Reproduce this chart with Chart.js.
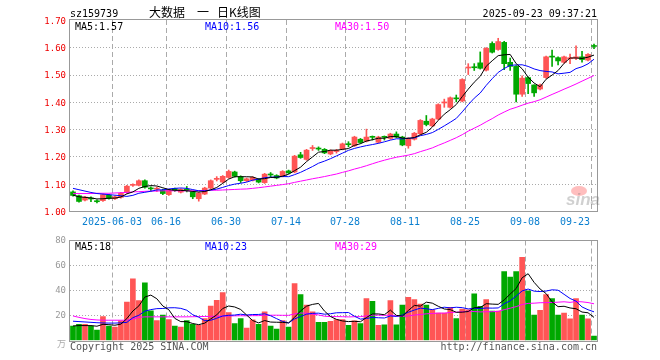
<!DOCTYPE html>
<html>
<head>
<meta charset="utf-8">
<script src="https://cdn.jsdelivr.net/npm/chart.js@4.4.1/dist/chart.umd.min.js"></script>
<style>
  body { margin: 0; background: #fff; }
  #wrap { position: relative; width: 660px; height: 360px; }
  #kbox { position: absolute; left: 0; top: 0; width: 660px; height: 230px; }
  #vbox { position: absolute; left: 0; top: 230px; width: 660px; height: 130px; }
</style>
</head>
<body>
<div id="wrap">
  <div id="kbox"><canvas id="kline" width="660" height="230"></canvas></div>
  <div id="vbox"><canvas id="vol" width="660" height="130"></canvas></div>
</div>
<script>
// trading days shown in the chart
const dates = [
  "2025-05-22","2025-05-23","2025-05-26","2025-05-27","2025-05-28","2025-05-29","2025-05-30",
  "2025-06-03","2025-06-04","2025-06-05","2025-06-06","2025-06-09","2025-06-10","2025-06-11","2025-06-12","2025-06-13",
  "2025-06-16","2025-06-17","2025-06-18","2025-06-19","2025-06-20","2025-06-23","2025-06-24","2025-06-25","2025-06-26","2025-06-27",
  "2025-06-30","2025-07-01","2025-07-02","2025-07-03","2025-07-04","2025-07-07","2025-07-08","2025-07-09","2025-07-10","2025-07-11",
  "2025-07-14","2025-07-15","2025-07-16","2025-07-17","2025-07-18","2025-07-21","2025-07-22","2025-07-23","2025-07-24","2025-07-25",
  "2025-07-28","2025-07-29","2025-07-30","2025-07-31","2025-08-01","2025-08-04","2025-08-05","2025-08-06","2025-08-07","2025-08-08",
  "2025-08-11","2025-08-12","2025-08-13","2025-08-14","2025-08-15","2025-08-18","2025-08-19","2025-08-20","2025-08-21","2025-08-22",
  "2025-08-25","2025-08-26","2025-08-27","2025-08-28","2025-08-29","2025-09-01","2025-09-02","2025-09-03","2025-09-04","2025-09-05",
  "2025-09-08","2025-09-09","2025-09-10","2025-09-11","2025-09-12","2025-09-15","2025-09-16","2025-09-17","2025-09-18","2025-09-19",
  "2025-09-22","2025-09-23"
];
const tickIdx = [7, 16, 26, 36, 46, 56, 66, 76, 87];

const opens = [
  1.070,1.056,1.040,1.046,1.036,1.038,1.058,1.045,1.050,1.067,
  1.094,1.094,1.111,1.083,1.080,1.076,1.060,1.082,1.069,1.078,
  1.070,1.045,1.062,1.084,1.116,1.106,1.123,1.143,1.126,1.111,
  1.113,1.116,1.104,1.134,1.130,1.128,1.147,1.143,1.206,1.189,
  1.229,1.229,1.226,1.209,1.218,1.227,1.245,1.239,1.263,1.256,
  1.272,1.252,1.272,1.266,1.282,1.271,1.239,1.263,1.283,1.329,
  1.312,1.337,1.396,1.380,1.413,1.403,1.524,1.527,1.543,1.516,
  1.614,1.592,1.618,1.545,1.530,1.428,1.489,1.462,1.447,1.489,
  1.566,1.562,1.545,1.558,1.560,1.565,1.553,1.605
];
const highs = [
  1.074,1.058,1.054,1.052,1.041,1.062,1.061,1.056,1.068,1.094,
  1.100,1.114,1.114,1.089,1.088,1.080,1.080,1.084,1.082,1.090,
  1.073,1.068,1.087,1.114,1.126,1.130,1.150,1.146,1.129,1.121,
  1.126,1.119,1.138,1.141,1.133,1.148,1.150,1.204,1.215,1.226,
  1.240,1.235,1.229,1.224,1.226,1.249,1.254,1.274,1.266,1.300,
  1.275,1.274,1.275,1.285,1.290,1.274,1.269,1.288,1.335,1.350,
  1.340,1.393,1.410,1.418,1.425,1.485,1.540,1.540,1.583,1.599,
  1.620,1.633,1.622,1.560,1.533,1.495,1.492,1.462,1.465,1.568,
  1.590,1.565,1.568,1.575,1.605,1.585,1.577,1.612
];
const lows = [
  1.054,1.032,1.037,1.034,1.030,1.035,1.043,1.042,1.047,1.064,
  1.090,1.092,1.084,1.074,1.072,1.060,1.057,1.072,1.066,1.070,
  1.045,1.036,1.060,1.082,1.110,1.103,1.120,1.124,1.104,1.108,
  1.110,1.103,1.101,1.125,1.118,1.125,1.137,1.140,1.193,1.186,
  1.222,1.222,1.210,1.206,1.212,1.224,1.235,1.236,1.248,1.253,
  1.260,1.249,1.260,1.263,1.268,1.239,1.230,1.260,1.280,1.312,
  1.309,1.334,1.380,1.377,1.400,1.400,1.500,1.515,1.520,1.513,
  1.579,1.589,1.518,1.515,1.400,1.420,1.430,1.420,1.444,1.486,
  1.530,1.535,1.542,1.540,1.555,1.545,1.550,1.595
];
const closes = [
  1.057,1.035,1.051,1.044,1.034,1.060,1.046,1.052,1.065,1.091,
  1.096,1.111,1.087,1.081,1.083,1.064,1.077,1.075,1.079,1.076,
  1.052,1.066,1.084,1.111,1.118,1.127,1.145,1.127,1.111,1.118,
  1.123,1.106,1.135,1.132,1.121,1.145,1.140,1.201,1.196,1.223,
  1.231,1.227,1.213,1.221,1.222,1.246,1.243,1.271,1.251,1.271,
  1.270,1.271,1.270,1.282,1.271,1.242,1.266,1.285,1.332,1.317,
  1.337,1.390,1.398,1.415,1.411,1.482,1.527,1.525,1.523,1.596,
  1.582,1.621,1.540,1.530,1.428,1.487,1.467,1.433,1.462,1.565,
  1.564,1.550,1.565,1.560,1.565,1.555,1.574,1.603
];
// volume, in 万
const volumes = [
  11.3,12.8,12.8,11.3,8.2,19.0,11.3,10.6,15.7,30.6,
  49.2,31.8,46.0,23.6,15.9,20.3,16.7,11.3,10.6,15.9,
  12.8,12.1,17.4,27.5,32.1,38.3,22.2,13.5,17.4,9.7,
  16.4,12.8,22.9,11.3,9.0,15.9,10.6,45.4,36.7,28.3,
  22.9,14.5,14.5,15.2,16.7,16.7,11.9,15.7,13.4,33.5,
  31.2,11.9,12.5,31.8,12.5,28.3,34.5,32.7,29.0,28.3,
  24.4,21.9,21.9,26.5,17.5,25.0,24.4,37.3,27.3,32.7,
  23.4,23.4,55.0,50.7,55.0,66.6,39.6,20.3,24.1,36.6,
  33.5,20.3,21.9,17.3,33.5,20.3,17.3,3.4
];
// moving-average values for the first days (before the window is full)
const priceMa5Head = [1.058, 1.052, 1.050, 1.048];
const priceMa10Head = [1.083, 1.078, 1.073, 1.068, 1.064, 1.062, 1.060, 1.058, 1.056];
const priceMa30Head = [
  1.064,1.064,1.064,1.064,1.065,1.065,1.065,1.066,1.067,1.068,
  1.070,1.071,1.072,1.073,1.073,1.074,1.074,1.074,1.074,1.074,
  1.074,1.075,1.075,1.076,1.076,1.077,1.078,1.079,1.080
];
const volMa5Head = [11.5, 11.8, 11.8, 11.8];
const volMa10Head = [15.3, 15.0, 14.7, 14.4, 14.1, 13.9, 13.8, 13.8, 14.0];
const volMa30Head = [
  19.5,18.4,17.4,16.7,16.3,16.1,16.1,16.1,16.1,16.1,
  17.0,18.4,18.8,18.8,18.8,18.8,18.8,18.8,18.8,18.8,
  18.9,19.0,19.1,19.2,19.3,19.4,19.5,19.6,19.7
];
const priceTicks = [1.0, 1.1, 1.2, 1.3, 1.4, 1.5, 1.6, 1.7];
const volTicks = [0, 20, 40, 60, 80];

const RED = '#ff5555', GREEN = '#00a800';
const MONO = '"DejaVu Sans Mono", monospace';

function ma(src, n, head) {
  return src.map((v, i) => {
    if (i < n - 1) return head[i];
    let s = 0;
    for (let k = i - n + 1; k <= i; k++) s += src[k];
    return s / n;
  });
}

const up = closes.map((c, i) => c >= opens[i]);
const colors = up.map(u => u ? RED : GREEN);
const bodies = opens.map((o, i) => [o, closes[i]]);
const wicks = lows.map((l, i) => [l, highs[i]]);

const pMa5 = ma(closes, 5, priceMa5Head);
const pMa10 = ma(closes, 10, priceMa10Head);
const pMa30 = ma(closes, 30, priceMa30Head);
const vMa5 = ma(volumes, 5, volMa5Head);
const vMa10 = ma(volumes, 10, volMa10Head);
const vMa30 = ma(volumes, 30, volMa30Head);

function lineSet(data, color) {
  return { type: 'line', data, borderColor: color, borderWidth: 1, pointRadius: 0, tension: 0, order: 0 };
}

// dotted horizontal + dashed vertical grid, then frame
function gridPlugin(hVals) {
  return {
    id: 'grid',
    beforeDatasetsDraw(chart) {
      const { ctx, chartArea: a, scales: { x, y } } = chart;
      const w = x.width / dates.length;
      ctx.save();
      ctx.strokeStyle = '#aaa';
      ctx.lineWidth = 1;
      ctx.setLineDash([1, 2]);
      hVals.forEach(v => {
        const py = Math.round(y.getPixelForValue(v)) + 0.5;
        ctx.beginPath(); ctx.moveTo(a.left, py); ctx.lineTo(a.right, py); ctx.stroke();
      });
      ctx.setLineDash([5, 3]);
      tickIdx.forEach(i => {
        const px = Math.round(x.getPixelForValue(i) - w / 2) + 0.5;
        ctx.beginPath(); ctx.moveTo(px, a.top); ctx.lineTo(px, a.bottom); ctx.stroke();
      });
      ctx.restore();
    },
    afterDraw(chart) {
      const { ctx, chartArea: a } = chart;
      ctx.save();
      ctx.strokeStyle = '#999';
      ctx.lineWidth = 1;
      ctx.strokeRect(Math.round(a.left) - 0.5, Math.round(a.top) - 0.5, Math.round(a.right - a.left) + 1, Math.round(a.bottom - a.top) + 1);
      ctx.restore();
    }
  };
}

function text(ctx, s, x, y, color, font, align) {
  ctx.fillStyle = color;
  ctx.font = font;
  ctx.textAlign = align || 'left';
  ctx.textBaseline = 'alphabetic';
  ctx.fillText(s, x, y);
}

const klineText = {
  id: 'klineText',
  afterDraw(chart) {
    const { ctx, scales: { x } } = chart;
    const w = x.width / dates.length;
    const f10 = '10px ' + MONO;
    const cjk = '12px "Noto Sans CJK SC", sans-serif';
    ctx.save();
    text(ctx, 'sz159739', 70, 17, '#000', f10);
    text(ctx, '大数据', 149, 17, '#000', cjk);
    text(ctx, '一', 197, 17, '#000', cjk);
    text(ctx, '日K线图', 217, 17, '#000', cjk);
    text(ctx, '2025-09-23 09:37:21', 597, 17, '#000', f10, 'right');
    const last = closes.length - 1;
    text(ctx, 'MA5:' + pMa5[last].toFixed(2), 75, 30, '#000', f10);
    text(ctx, 'MA10:' + pMa10[last].toFixed(2), 205, 30, '#0000ff', f10);
    text(ctx, 'MA30:' + pMa30[last].toFixed(2), 335, 30, '#ff00ff', f10);
    tickIdx.forEach((i, k) => {
      const px = Math.round(x.getPixelForValue(i) - w / 2);
      const lab = k === 0 ? dates[i] : dates[i].slice(5);
      if (k === tickIdx.length - 1) text(ctx, lab, px - 1, 225, '#0a7fd0', f10, 'right');
      else text(ctx, lab, px, 225, '#0a7fd0', f10, 'center');
    });
    // sina watermark
    ctx.globalAlpha = 0.35;
    ctx.fillStyle = '#f44';
    ctx.beginPath(); ctx.ellipse(579, 191, 8, 5, 0, 0, Math.PI * 2); ctx.fill();
    text(ctx, 'sina', 566, 205, '#777', 'italic bold 17px "Liberation Sans", sans-serif');
    ctx.restore();
  }
};

const volText = {
  id: 'volText',
  afterDraw(chart) {
    const { ctx } = chart;
    const f10 = '10px ' + MONO;
    const last = volumes.length - 1;
    ctx.save();
    text(ctx, 'MA5:' + Math.round(vMa5[last]), 75, 19.5, '#000', f10);
    text(ctx, 'MA10:' + Math.round(vMa10[last]), 205, 19.5, '#0000ff', f10);
    text(ctx, 'MA30:' + Math.round(vMa30[last]), 335, 19.5, '#ff00ff', f10);
    text(ctx, '万', 66, 117, '#aaa', '9px "Noto Sans CJK SC", sans-serif', 'right');
    text(ctx, 'Copyright 2025 SINA.COM', 70, 119.5, '#555', f10);
    text(ctx, 'http://finance.sina.com.cn', 597, 119.5, '#555', f10, 'right');
    ctx.restore();
  }
};

const common = {
  responsive: false,
  animation: false,
  events: [],
  plugins: { legend: { display: false }, tooltip: { enabled: false } }
};

new Chart(document.getElementById('kline'), {
  type: 'bar',
  data: {
    labels: dates,
    datasets: [
      lineSet(pMa5, '#000000'),
      lineSet(pMa10, '#0000ff'),
      lineSet(pMa30, '#ff00ff'),
      { type: 'bar', data: bodies, backgroundColor: colors, borderWidth: 0, barThickness: 5, minBarLength: 1, grouped: false, order: 2 },
      { type: 'bar', data: wicks, backgroundColor: colors, borderWidth: 0, barThickness: 1, minBarLength: 1, grouped: false, order: 3 }
    ]
  },
  options: {
    ...common,
    layout: { padding: { left: 0, right: 63, top: 20, bottom: 0 } },
    scales: {
      x: {
        offset: true,
        grid: { display: false, drawTicks: false },
        border: { display: false },
        ticks: { display: false },
        afterFit(s) { s.height = 19; }
      },
      y: {
        min: 1.0, max: 1.7,
        afterBuildTicks(s) { s.ticks = priceTicks.map(v => ({ value: v })); },
        grid: { display: false, drawTicks: false },
        border: { display: false },
        ticks: { color: '#ee0000', padding: 4, labelOffset: 1.5, font: { family: MONO, size: 9 }, callback: v => v.toFixed(2) },
        afterFit(s) { s.width = 70; }
      }
    }
  },
  plugins: [gridPlugin([1.1, 1.2, 1.3, 1.4, 1.5, 1.6]), klineText]
});

new Chart(document.getElementById('vol'), {
  type: 'bar',
  data: {
    labels: dates,
    datasets: [
      lineSet(vMa5, '#000000'),
      lineSet(vMa10, '#0000ff'),
      lineSet(vMa30, '#ff00ff'),
      { type: 'bar', data: volumes, backgroundColor: colors, borderWidth: 0, barThickness: 5, grouped: false, order: 2 }
    ]
  },
  options: {
    ...common,
    layout: { padding: { left: 0, right: 63, top: 10.5, bottom: 0 } },
    scales: {
      x: {
        offset: true,
        grid: { display: false, drawTicks: false },
        border: { display: false },
        ticks: { display: false },
        afterFit(s) { s.height = 19.7; }
      },
      y: {
        min: 0, max: 80,
        afterBuildTicks(s) { s.ticks = volTicks.map(v => ({ value: v })); },
        grid: { display: false, drawTicks: false },
        border: { display: false },
        ticks: { color: '#999', padding: 4, font: { family: MONO, size: 9 }, callback: v => v === 0 ? '' : v },
        afterFit(s) { s.width = 70; }
      }
    }
  },
  plugins: [gridPlugin([20, 40, 60]), volText]
});
</script>
</body>
</html>
